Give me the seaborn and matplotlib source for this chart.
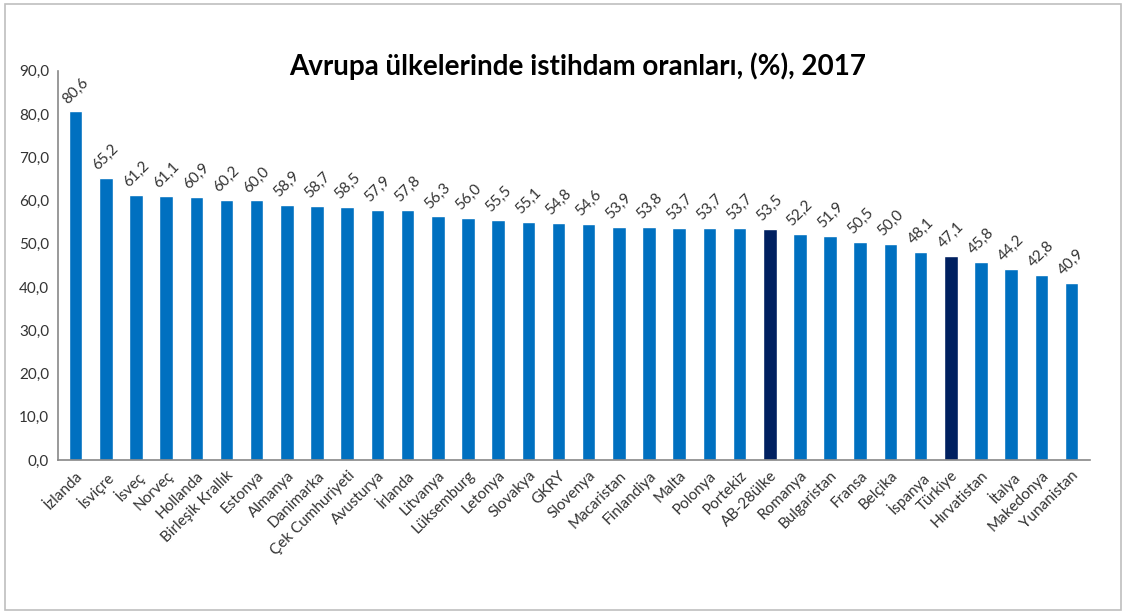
import numpy as np
import pandas as pd
import seaborn as sns
import matplotlib.pyplot as plt
from matplotlib.patches import Rectangle

countries = ["İzlanda", "İsviçre", "İsveç", "Norveç", "Hollanda", "Birleşik Krallık",
             "Estonya", "Almanya", "Danimarka", "Çek Cumhuriyeti", "Avusturya", "İrlanda",
             "Litvanya", "Lüksemburg", "Letonya", "Slovakya", "GKRY", "Slovenya",
             "Macaristan", "Finlandiya", "Malta", "Polonya", "Portekiz", "AB-28ülke",
             "Romanya", "Bulgaristan", "Fransa", "Belçika", "İspanya", "Türkiye",
             "Hırvatistan", "İtalya", "Makedonya", "Yunanistan"]
rates = [80.6, 65.2, 61.2, 61.1, 60.9, 60.2, 60.0, 58.9, 58.7, 58.5, 57.9, 57.8,
         56.3, 56.0, 55.5, 55.1, 54.8, 54.6, 53.9, 53.8, 53.7, 53.7, 53.7, 53.5,
         52.2, 51.9, 50.5, 50.0, 48.1, 47.1, 45.8, 44.2, 42.8, 40.9]
highlight = ["AB-28ülke", "Türkiye"]

df = pd.DataFrame({"ulke": countries, "oran": rates})
df["grup"] = np.where(df["ulke"].isin(highlight), "vurgu", "normal")

sns.set_style("white")
plt.rcParams["font.family"] = ["Lato", "DejaVu Sans"]

fig = plt.figure(figsize=(11.28, 6.15), dpi=100)
ax = fig.add_axes([0.051, 0.252, 0.915, 0.633])

palette = {"normal": "#0070C0", "vurgu": "#002060"}
sns.barplot(data=df, x="ulke", y="oran", hue="grup", palette=palette,
            dodge=False, width=0.45, saturation=1, legend=False, ax=ax)

# Değer etiketleri
for i, v in enumerate(rates):
    ax.text(i, v + 1.2, f"{v:.1f}".replace(".", ","), rotation=45,
            ha="center", va="bottom", fontsize=11, color="#333333")

ax.set_ylim(0, 90)
ax.set_xlim(-0.6, len(countries) - 0.4)
ax.set_yticks(np.arange(0, 91, 10))
ax.set_yticklabels([f"{t:.1f}".replace(".", ",") for t in np.arange(0, 91, 10)],
                   fontsize=11, color="#333333")
ax.set_xticks(range(len(countries)))
ax.set_xticklabels(countries, rotation=45, ha="right", rotation_mode="anchor",
                   fontsize=11, color="#333333")
ax.tick_params(axis="both", length=0, pad=6)
ax.set_xlabel("")
ax.set_ylabel("")

for s in ["top", "right"]:
    ax.spines[s].set_visible(False)
for s in ["left", "bottom"]:
    ax.spines[s].set_color("#888888")
    ax.spines[s].set_linewidth(1.2)

fig.text(0.512, 0.893, "Avrupa ülkelerinde istihdam oranları, (%), 2017",
         ha="center", va="center", fontsize=20, fontweight="bold", color="black")

# Dış çerçeve
fig.patches.append(Rectangle((0.004, 0.008), 0.99, 0.985, transform=fig.transFigure,
                             fill=False, edgecolor="#bfbfbf", linewidth=1.2))

plt.savefig("out.png", dpi=100)
plt.close(fig)
